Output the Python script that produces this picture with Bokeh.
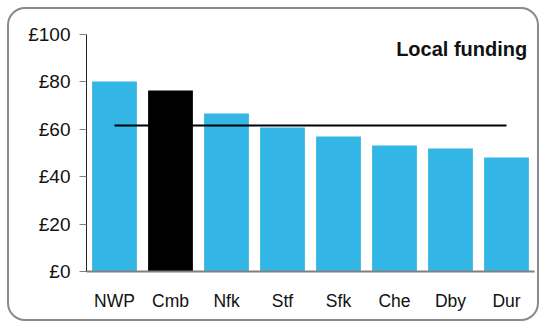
from bokeh.plotting import figure
from bokeh.models import Range1d, Label, PrintfTickFormatter, FixedTicker
from bokeh.embed import file_html
from bokeh.resources import INLINE

categories = ["NWP", "Cmb", "Nfk", "Stf", "Sfk", "Che", "Dby", "Dur"]
values = [80.2, 76.4, 66.7, 60.8, 57.0, 53.2, 51.9, 48.1]
bar_colors = ["#33B6E6", "#000000", "#33B6E6", "#33B6E6", "#33B6E6", "#33B6E6", "#33B6E6", "#33B6E6"]
average = 61.6
y_ticks = [0, 20, 40, 60, 80, 100]
title_text = "Local funding"

FONT = "Liberation Sans"

p = figure(x_range=categories, y_range=Range1d(0, 100), width=532, height=314,
           output_backend="svg", toolbar_location=None,
           min_border_left=79, min_border_right=5, min_border_top=27, min_border_bottom=50)
p.styles = {"outline": "2px solid #8a8a8a", "outline-offset": "-2px", "border-radius": "18px",
            "margin-left": "7px", "margin-top": "7px", "background-color": "white"}
p.border_fill_color = None
p.background_fill_color = None

p.vbar(x=categories, top=values, width=0.8, fill_color=bar_colors, line_color=None)
p.line(x=[categories[0], categories[-1]], y=[average, average], line_color="black", line_width=2.2)

p.xgrid.visible = False
p.ygrid.visible = False
p.outline_line_color = None

p.yaxis.ticker = FixedTicker(ticks=y_ticks)
p.yaxis.formatter = PrintfTickFormatter(format="£%d")
p.yaxis.minor_tick_line_color = None
p.yaxis.major_tick_out = 7
p.yaxis.major_tick_in = 0
p.yaxis.major_tick_line_color = "#808080"
p.yaxis.axis_line_color = "#222222"
p.yaxis.major_label_text_font = FONT
p.yaxis.major_label_text_font_size = "19px"
p.yaxis.major_label_text_color = "#111111"
p.yaxis.major_label_standoff = 9

p.xaxis.major_tick_line_color = None
p.xaxis.minor_tick_line_color = None
p.xaxis.axis_line_color = "#808080"
p.xaxis.axis_line_width = 2
p.xaxis.major_label_text_font = FONT
p.xaxis.major_label_text_font_size = "17.5px"
p.xaxis.major_label_text_color = "#111111"
p.xaxis.major_label_standoff = 13

p.add_layout(Label(x=7.87, y=93.7, text=title_text, text_align="right",
                   text_baseline="alphabetic", text_font=FONT,
                   text_font_size="20px", text_font_style="bold", text_color="#111111"))

open("out.html", "w").write(file_html(p, INLINE))
